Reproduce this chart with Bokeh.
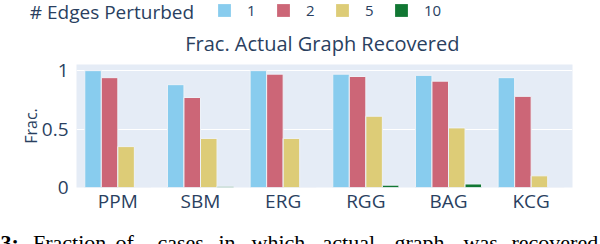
from bokeh.plotting import figure
from bokeh.models import (ColumnDataSource, FactorRange, Range1d, Legend, LegendItem,
                          Label, FixedTicker)
from bokeh.layouts import column
from bokeh.transform import dodge
from bokeh.embed import file_html
from bokeh.resources import INLINE

# ---- data ----
categories = ["PPM", "SBM", "ERG", "RGG", "BAG", "KCG"]
series_names = ["1", "2", "5", "10"]
edges_1 = [1.00, 0.88, 1.00, 0.97, 0.96, 0.94]
edges_2 = [0.94, 0.77, 0.97, 0.95, 0.91, 0.78]
edges_5 = [0.35, 0.42, 0.42, 0.61, 0.51, 0.10]
edges_10 = [0.00, 0.01, 0.00, 0.02, 0.03, 0.00]
y_ticks = [0, 0.5, 1]
y_tick_labels = ["0", "0.5", "1"]
colors = ["#88CCEE", "#CC6677", "#DDCC77", "#117733"]
title_text = "Frac. Actual Graph Recovered"
legend_title = "# Edges Perturbed"
y_label = "Frac."
caption_lead = "3:"
caption_words = ["Fraction", "of", "cases", "in", "which", "actual", "graph", "was", "recovered"]
caption_x = [32.5, 115, 157, 218, 251, 322, 394, 463, 511]  # x of each word (justified line)

FONT = "Open Sans"
TXT = "#2a3f5f"
W = 600
HEADER_H, MAIN_H, CAP_H = 56, 166, 22


def no_align(f):
    if "frame_align" in f.properties():
        f.frame_align = False
    return f


def bare(h):
    f = figure(width=W, height=h, output_backend="svg", toolbar_location=None,
               x_range=Range1d(0, 1), y_range=Range1d(0, 1),
               x_axis_location=None, y_axis_location=None,
               min_border_left=0, min_border_right=0, min_border_top=0, min_border_bottom=0)
    f.grid.grid_line_color = None
    f.outline_line_color = None
    f.background_fill_color = "white"
    f.border_fill_color = "white"
    return no_align(f)


def text_label(fig, x, baseline_from_top, text, size, font=FONT, color=TXT, style="normal",
               align="left", descent=0.293):
    # Label y is measured up from the frame bottom; compensate the rendered descent shift
    h = fig.height
    y = h - (baseline_from_top - descent * size)
    fig.add_layout(Label(x=x, y=y, x_units="screen", y_units="screen", text=text,
                         text_font=font, text_font_size=f"{size}px", text_font_style=style,
                         text_color=color, text_baseline="alphabetic", text_align=align))


# ---- header: legend + title ----
header = bare(HEADER_H)
leg_renderers = [header.vbar(x=[0.5], top=[0], bottom=[0], width=0.2, fill_color=c, line_color=None)
                 for c in colors]
legend = Legend(items=[LegendItem(label=n, renderers=[r]) for n, r in zip(series_names, leg_renderers)],
                orientation="horizontal", location=(216, HEADER_H - 19.5), padding=0, spacing=8,
                margin=0, glyph_width=16, glyph_height=16, label_standoff=15, label_width=20,
                label_height=20, label_text_font=FONT, label_text_font_size="15px",
                label_text_color=TXT, border_line_alpha=0, background_fill_alpha=0)
header.add_layout(legend)
text_label(header, 29.3, 16.7, legend_title, 19)
text_label(header, 321.8, 48.7, title_text, 20, align="center")

# ---- main chart ----
src = ColumnDataSource(dict(cat=categories, e1=edges_1, e2=edges_2, e5=edges_5, e10=edges_10))

p = figure(x_range=FactorRange(*categories), y_range=Range1d(0, 1.0526),
           width=W, height=MAIN_H, output_backend="svg", toolbar_location=None,
           min_border_left=76, min_border_right=28, min_border_top=8, min_border_bottom=35)
no_align(p)
p.background_fill_color = "#E5ECF6"
p.border_fill_color = "white"
p.outline_line_color = None

offsets = [-0.3, -0.1, 0.1, 0.3]
cols = ["e1", "e2", "e5", "e10"]
for col, off, c in zip(cols, offsets, colors):
    p.vbar(x=dodge("cat", off, range=p.x_range), top=col, bottom=0, width=0.2,
           source=src, fill_color=c, line_color="#EEF2F8", line_width=1)

p.xgrid.grid_line_color = None
p.ygrid.grid_line_color = "white"
p.ygrid.grid_line_width = 1
p.yaxis.ticker = FixedTicker(ticks=y_ticks)
p.yaxis.major_label_overrides = {t: l for t, l in zip(y_ticks, y_tick_labels)}
for ax in (p.xaxis, p.yaxis):
    ax.axis_line_color = None
    ax.major_tick_line_color = None
    ax.minor_tick_line_color = None
    ax.major_label_text_font = FONT
    ax.major_label_text_color = TXT
    ax.major_label_text_font_size = "19px"
p.yaxis.major_label_standoff = 2
p.xaxis.major_label_standoff = -6
p.yaxis.axis_label = y_label
p.yaxis.axis_label_text_font = FONT
p.yaxis.axis_label_text_font_size = "16px"
p.yaxis.axis_label_text_font_style = "normal"
p.yaxis.axis_label_text_color = TXT
p.yaxis.axis_label_standoff = -3

# ---- caption (cut off at the bottom, as in the reference) ----
cap = bare(CAP_H)
CAP_SIZE = 22
cap_base = 231.7 + 0.662 * CAP_SIZE - (HEADER_H + MAIN_H)
text_label(cap, 0, cap_base, caption_lead, CAP_SIZE, font="Liberation Serif", color="black",
           style="bold", descent=0.216)
for w, xp in zip(caption_words, caption_x):
    text_label(cap, xp, cap_base, w, CAP_SIZE, font="Liberation Serif", color="black", descent=0.216)

layout = column(header, p, cap, spacing=0)
open("out.html", "w").write(file_html(layout, INLINE))
